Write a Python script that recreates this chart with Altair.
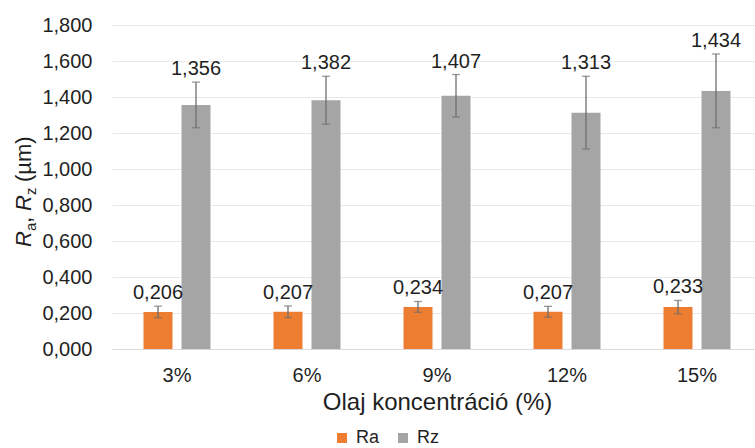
import altair as alt
import pandas as pd

concentrations = ["3%", "6%", "9%", "12%", "15%"]
series_names = ["Ra", "Rz"]
ra_values = [0.206, 0.207, 0.234, 0.207, 0.233]
rz_values = [1.356, 1.382, 1.407, 1.313, 1.434]
ra_errors = [0.032, 0.032, 0.030, 0.030, 0.037]
rz_errors = [0.127, 0.133, 0.118, 0.202, 0.205]
y_ticks = [0.0, 0.2, 0.4, 0.6, 0.8, 1.0, 1.2, 1.4, 1.6, 1.8]

rows = []
for i, c in enumerate(concentrations):
    rows.append({"conc": c, "series": "Ra", "value": ra_values[i], "err": ra_errors[i]})
    rows.append({"conc": c, "series": "Rz", "value": rz_values[i], "err": rz_errors[i]})
df = pd.DataFrame(rows)

FONT = "Liberation Sans"
TXT = "#1f1f1f"
ERR = "#6e6e6e"

base = alt.Chart(df).transform_calculate(
    lo="datum.value - datum.err",
    hi="datum.value + datum.err",
    label="replace(format(datum.value, '.3f'), '.', ',')",
)

x_enc = alt.X(
    "conc:N",
    sort=concentrations,
    scale=alt.Scale(range=[0, 650], paddingInner=0.4846, paddingOuter=0.2423),
    axis=alt.Axis(
        title="Olaj koncentráció (%)",
        titleFontSize=24,
        titleFont=FONT,
        titleFontWeight="normal",
        titleColor=TXT,
        titlePadding=5,
        labelFontSize=20,
        labelFont=FONT,
        labelColor=TXT,
        labelAngle=0,
        labelPadding=16,
        ticks=False,
        domainColor="#d9d9d9",
        domainWidth=1,
        grid=False,
    ),
)
xo_enc = alt.XOffset(
    "series:N", sort=series_names, scale=alt.Scale(paddingInner=0.237, paddingOuter=0)
)
y_scale = alt.Scale(domain=[0, 1.8], nice=False)
y_axis = alt.Axis(
    values=y_ticks,
    labelExpr="replace(format(datum.value, '.3f'), '.', ',')",
    labelOverlap=False,
    title=None,
    domain=False,
    ticks=False,
    labelPadding=20,
    labelFontSize=20,
    labelFont=FONT,
    labelColor=TXT,
    gridColor="#e8e8e8",
    gridWidth=1,
)

bars = base.mark_bar().encode(
    x=x_enc,
    xOffset=xo_enc,
    y=alt.Y("value:Q", scale=y_scale, axis=y_axis),
    color=alt.Color(
        "series:N",
        scale=alt.Scale(domain=series_names, range=["#ED7D31", "#A5A5A5"]),
        legend=alt.Legend(
            orient="none",
            legendX=221,
            legendY=404,
            direction="horizontal",
            title=None,
            symbolType="square",
            symbolSize=100,
            symbolStrokeWidth=0,
            labelFontSize=18,
            labelFont=FONT,
            labelColor=TXT,
            labelOffset=5,
            columnPadding=14,
            padding=0,
        ),
    ),
)

rules = base.mark_rule(color=ERR, strokeWidth=1.3).encode(
    x=x_enc, xOffset=xo_enc, y=alt.Y("lo:Q", scale=y_scale, axis=y_axis), y2="hi:Q"
)
cap_hi = base.mark_tick(orient="horizontal", size=8, thickness=1.3, color=ERR).encode(
    x=x_enc, xOffset=xo_enc, y=alt.Y("hi:Q", scale=y_scale, axis=y_axis)
)
cap_lo = base.mark_tick(orient="horizontal", size=8, thickness=1.3, color=ERR).encode(
    x=x_enc, xOffset=xo_enc, y=alt.Y("lo:Q", scale=y_scale, axis=y_axis)
)
labels = base.mark_text(
    baseline="alphabetic", dy=-7, fontSize=20, font=FONT, color=TXT
).encode(
    x=x_enc,
    xOffset=xo_enc,
    y=alt.Y("hi:Q", scale=y_scale, axis=y_axis),
    text="label:N",
)


def title_piece(text, x, y, size, style="normal"):
    return alt.Chart(alt.InlineData(values=[{"t": text}])).mark_text(
        angle=270,
        align="left",
        baseline="alphabetic",
        fontSize=size,
        fontStyle=style,
        font=FONT,
        color=TXT,
    ).encode(x=alt.value(x), y=alt.value(y), text="t:N")


# y-axis title "R_a, R_z (µm)" built from pieces (view coordinates)
title_layers = [
    title_piece("R", -81, 222, 22, "italic"),
    title_piece("a", -76, 206, 15),
    title_piece(",", -81, 198, 22),
    title_piece("R", -81, 186, 22, "italic"),
    title_piece("z", -76, 170, 15),
    title_piece("(µm)", -81, 157, 22),
]

chart = alt.layer(bars, rules, cap_hi, cap_lo, labels, *title_layers).properties(
    width=643,
    height=324,
    autosize=alt.AutoSizeParams(type="none"),
    padding={"left": 112, "top": 25, "right": 0, "bottom": 99},
).configure_view(strokeWidth=0)

chart.save("out.html", embed_options={"renderer": "svg", "actions": False})
